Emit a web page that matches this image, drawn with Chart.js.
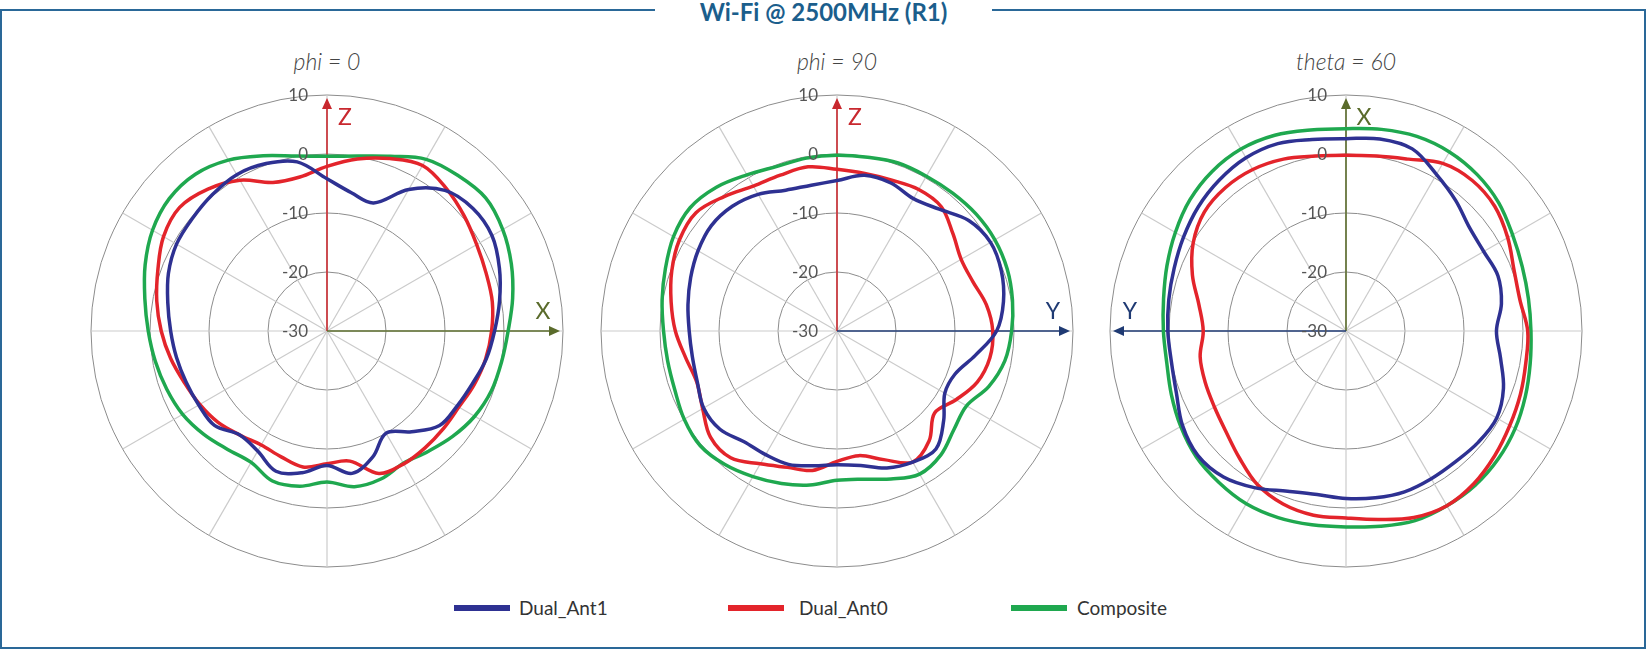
<!DOCTYPE html>
<html>
<head>
<meta charset="utf-8">
<script src="https://cdn.jsdelivr.net/npm/chart.js@4.4.1/dist/chart.umd.min.js"></script>
<style>
  html, body { margin: 0; padding: 0; background: #fff; }
  body { width: 1646px; height: 650px; position: relative; overflow: hidden; font-family: Lato, "Open Sans", sans-serif; }
  #frame { position: absolute; left: 0; top: 9px; width: 1642px; height: 636px; border: 2px solid #2a6898; }
  #title { position: absolute; left: 655px; top: -1px; width: 337px; text-align: center; background: #fff;
           font: bold 24px Lato, sans-serif; color: #1b5e8c; line-height: 26px; }
  .sub { position: absolute; top: 48px; width: 300px; text-align: center; font: italic 300 23px Lato, sans-serif;
         color: #444; line-height: 26px; }
  .plot { position: absolute; top: 81px; width: 500px; height: 500px; }
  .lg-sw { position: absolute; top: 605px; height: 6px; width: 56px; }
  .lg-tx { position: absolute; top: 596px; line-height: 24px; font: 19px Lato, sans-serif; color: #333; }
</style>
</head>
<body>
<div id="frame"></div>
<div id="title">Wi-Fi @ 2500MHz (R1)</div>
<div class="sub" style="left:177px">phi = 0</div>
<div class="sub" style="left:687px">phi = 90</div>
<div class="sub" style="left:1196px">theta = 60</div>
<div class="plot" style="left:77px"><canvas id="c1" width="500" height="500"></canvas></div>
<div class="plot" style="left:587px"><canvas id="c2" width="500" height="500"></canvas></div>
<div class="plot" style="left:1096px"><canvas id="c3" width="500" height="500"></canvas></div>
<div id="legend"></div>
<script>
// ---------------- DATA ----------------
const angles = [0,10,20,30,40,50,60,70,80,90,100,110,120,130,140,150,160,170,180,190,200,210,220,230,240,250,260,270,280,290,300,310,320,330,340,350];
const rTicks = [-30, -20, -10, 0, 10];
const seriesNames = ['Dual_Ant1', 'Dual_Ant0', 'Composite'];
const plotTitles = ['phi = 0', 'phi = 90', 'theta = 60'];

const phi0_ant1 = [-4.2,-6.2,-6.9,-2.3,1.1,2.3,2.3,1.1,-0.3,-1.6,-2.6,-3.8,-4.55,-5.1,-7.7,-10.0,-7.3,-5.5,-7.2,-5.6,-4.7,-6.5,-7.0,-5.1,-4.9,-4.6,-4.1,-3.5,-2.6,-1.4,-0.55,-0.25,0.2,0.6,0.2,-0.9];
const phi0_ant0 = [-2.1,-0.4,1.1,2.4,1.5,0.35,-0.7,-1.3,-1.55,-2.1,-2.7,-3.45,-4.2,-4.25,-4.15,-4.0,-4.3,-7.6,-7.5,-6.6,-7.3,-7.7,-7.0,-5.9,-5.1,-4.3,-3.1,-1.9,-0.7,0.5,2.0,2.6,1.4,-0.5,-3.2,-3.5];
const phi0_comp = [-0.4,0.1,1.5,3.6,4.45,5.1,4.4,3.25,1.95,0.7,0.05,-0.35,-1.1,-2.2,-3.35,-4.1,-3.3,-3.2,-4.4,-3.3,-2.95,-4.3,-3.8,-2.75,-1.75,-1.1,-0.45,0.3,1.35,2.8,4.15,4.9,4.7,3.45,1.6,0.1];

const phi90_ant1 = [-4.5,-3.2,-3.3,-4.1,-3.05,-0.85,0.05,-0.35,-1.35,-2.95,-6.2,-8.7,-8.9,-6.4,-3.9,-4.35,-5.3,-6.85,-7.35,-6.8,-5.95,-5.8,-5.5,-4.1,-3.9,-4.8,-5.1,-4.95,-4.35,-3.6,-2.8,-2.2,-2.4,-3.25,-4.6,-4.9];
const phi90_ant0 = [-2.6,-2.9,-2.8,-2.3,-2.5,-4.35,-5.7,-5.5,-4.3,-3.6,-3.7,-4.7,-6.7,-8.4,-5.7,-4.35,-6.8,-8.55,-7.9,-6.0,-5.4,-4.0,-1.95,-2.0,-3.7,-4.7,-3.95,-2.6,-1.45,-0.2,0.85,1.2,-0.25,-1.65,-1.9,-1.75];
const phi90_comp = [-0.2,-0.1,0.3,0.3,0.5,0.8,0.9,0.7,0.2,-0.4,-1.1,-2.6,-4.65,-4.1,-2.6,-2.0,-3.3,-4.5,-4.7,-3.5,-2.5,-1.5,-0.45,0.25,-0.1,-0.75,-0.85,-0.6,0.1,0.95,2.0,2.5,1.8,0.55,-0.3,-0.25];

const theta60_ant1 = [2.6,3.05,2.85,0.65,-1.1,-2.7,-3.05,-2.6,-3.25,-4.5,-3.4,-1.6,-0.5,-0.7,-1.1,-1.1,-1.0,-1.3,-1.6,-1.85,-1.1,0.7,2.3,2.8,2.0,0.6,0.05,0.2,0.5,1.0,1.8,2.7,3.4,3.9,3.8,2.95];
const theta60_ant0 = [-0.2,0.1,1.0,2.8,3.3,2.9,1.65,0.3,-0.05,0.8,0.95,1.45,2.05,2.9,3.75,4.2,3.65,2.45,1.7,1.7,1.2,0.05,-1.9,-3.45,-4.25,-4.6,-4.9,-5.8,-4.7,-2.3,-0.1,1.35,1.75,1.6,1.0,0.1];
const theta60_comp = [4.3,4.7,5.1,5.05,4.6,3.8,2.6,1.8,1.4,1.35,1.7,2.35,3.1,3.7,4.1,4.2,4.2,3.6,3.2,3.35,3.65,3.8,3.5,3.15,2.35,1.5,0.85,0.95,1.4,2.3,3.4,4.55,5.3,5.6,5.3,4.6];

// ---------------- STYLE ----------------
const colors = ['#2e3192', '#e3242b', '#1fa84f'];
const axisRed = '#c8282e', axisOlive = '#5a6b2b', axisNavy = '#1f3a73';

// legend (HTML)
(function () {
  const lg = document.getElementById('legend');
  const sw = [454, 728, 1011], tx = [519, 799, 1077];
  seriesNames.forEach((n, i) => {
    const s = document.createElement('div'); s.className = 'lg-sw';
    s.style.left = sw[i] + 'px'; s.style.background = colors[i]; lg.appendChild(s);
    const t = document.createElement('div'); t.className = 'lg-tx';
    t.style.left = tx[i] + 'px'; t.textContent = n; lg.appendChild(t);
  });
})();

function drawArrow(ctx, x0, y0, x1, y1, color) {
  const a = Math.atan2(y1 - y0, x1 - x0), head = 11, hw = 5;
  const bx = x1 - Math.cos(a) * head, by = y1 - Math.sin(a) * head;
  ctx.save();
  ctx.strokeStyle = color; ctx.fillStyle = color; ctx.lineWidth = 1.6;
  ctx.beginPath(); ctx.moveTo(x0, y0); ctx.lineTo(bx, by); ctx.stroke();
  ctx.beginPath(); ctx.moveTo(x1, y1);
  ctx.lineTo(bx - Math.sin(a) * hw, by + Math.cos(a) * hw);
  ctx.lineTo(bx + Math.sin(a) * hw, by - Math.cos(a) * hw);
  ctx.closePath(); ctx.fill();
  ctx.restore();
}

const polarDecor = {
  id: 'polarDecor',
  beforeDatasetsDraw(chart, args, opts) {
    const s = chart.scales.r, ctx = chart.ctx;
    const cx = s.xCenter, cy = s.yCenter;
    const R = s.getDistanceFromCenterForValue(s.max) - 3;
    drawArrow(ctx, cx, cy, cx, cy - R, opts.up.color);
    drawArrow(ctx, cx, cy, cx + opts.side.dir * R, cy, opts.side.color);
    ctx.save();
    ctx.font = '23px Lato, sans-serif';
    ctx.textAlign = 'center'; ctx.textBaseline = 'middle';
    ctx.fillStyle = opts.up.color;
    ctx.fillText(opts.up.label, cx + 18, cy - R + 20);
    ctx.fillStyle = opts.side.color;
    ctx.fillText(opts.side.label, cx + opts.side.dir * (R - 17), cy - 19);
    ctx.restore();
  },
  afterDatasetsDraw(chart) {
    const s = chart.scales.r, ctx = chart.ctx;
    const cx = s.xCenter, cy = s.yCenter;
    ctx.save();
    ctx.font = '17px Lato, sans-serif';
    ctx.fillStyle = '#555';
    ctx.textAlign = 'right'; ctx.textBaseline = 'middle';
    rTicks.forEach(v => {
      ctx.fillText(String(v), cx - 19, cy - s.getDistanceFromCenterForValue(v) + 1);
    });
    ctx.restore();
  }
};

function makeChart(id, data, up, side) {
  return new Chart(document.getElementById(id), {
    type: 'radar',
    data: {
      labels: angles.map(a => a + '°'),
      datasets: data.map((d, i) => ({
        label: seriesNames[i], data: d, borderColor: colors[i], backgroundColor: colors[i],
        borderWidth: 3.5, pointRadius: 0, pointHoverRadius: 0, fill: false, tension: 0.35,
        borderJoinStyle: 'round', borderCapStyle: 'round'
      }))
    },
    options: {
      responsive: false, animation: false, events: [],
      layout: { padding: 14 },
      plugins: { legend: { display: false }, tooltip: { enabled: false }, polarDecor: { up, side } },
      scales: {
        r: {
          min: rTicks[0], max: rTicks[rTicks.length - 1],
          ticks: { display: false, stepSize: 10 },
          pointLabels: { display: false },
          grid: { circular: true, color: '#8c8c8c', lineWidth: 1 },
          angleLines: {
            display: true,
            color: c => (angles[c.index] % 30 === 0 ? '#cbcbcb' : 'rgba(0,0,0,0)'),
            lineWidth: c => (angles[c.index] % 30 === 0 ? 1.2 : 0)
          }
        }
      }
    },
    plugins: [polarDecor]
  });
}

makeChart('c1', [phi0_ant1, phi0_ant0, phi0_comp], { label: 'Z', color: axisRed }, { label: 'X', color: axisOlive, dir: 1 });
makeChart('c2', [phi90_ant1, phi90_ant0, phi90_comp], { label: 'Z', color: axisRed }, { label: 'Y', color: axisNavy, dir: 1 });
makeChart('c3', [theta60_ant1, theta60_ant0, theta60_comp], { label: 'X', color: axisOlive }, { label: 'Y', color: axisNavy, dir: -1 });
</script>
</body>
</html>
